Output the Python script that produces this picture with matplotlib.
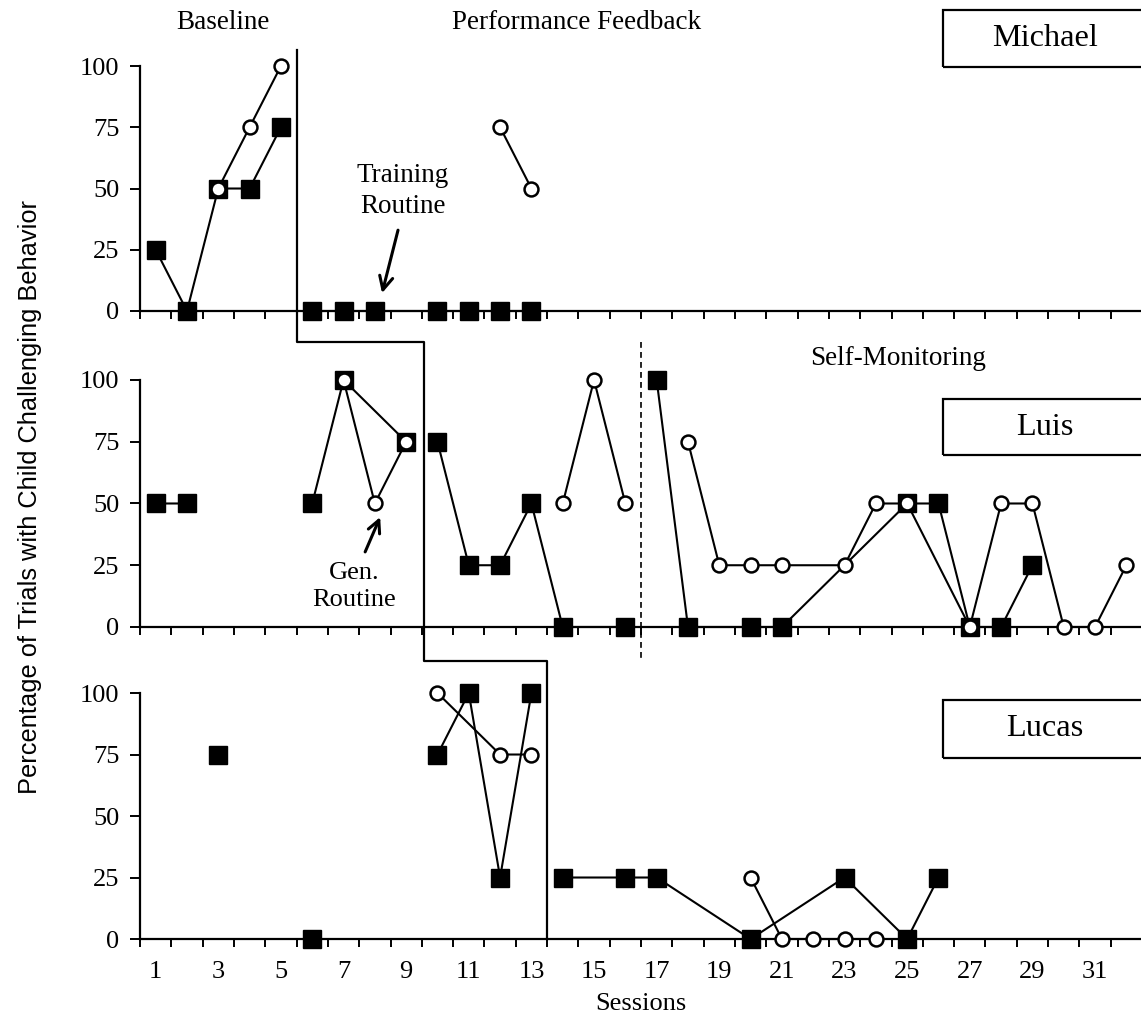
import numpy as np
import matplotlib.pyplot as plt
from matplotlib.patches import Rectangle
from matplotlib.lines import Line2D
from matplotlib.transforms import blended_transform_factory

plt.rcParams['font.family'] = ['Liberation Serif', 'DejaVu Serif']

nan = np.nan

# data: nan marks a break in the line (phase change)
# Michael
mi_sq_x = [1, 2, 3, 4, 5, nan, 6, 7, 8, 10, 11, 12, 13]
mi_sq_y = [25, 0, 50, 50, 75, nan, 0, 0, 0, 0, 0, 0, 0]
mi_ci_x = [3, 4, 5, nan, 12, 13]
mi_ci_y = [50, 75, 100, nan, 75, 50]

# Luis
lu_sq_x = [1, 2, nan, 6, 7, 9, nan, 10, 11, 12, 13, 14, 16, nan,
           17, 18, 20, 21, 25, 26, 27, 28, 29]
lu_sq_y = [50, 50, nan, 50, 100, 75, nan, 75, 25, 25, 50, 0, 0, nan,
           100, 0, 0, 0, 50, 50, 0, 0, 25]
lu_ci_x = [7, 8, 9, nan, 14, 15, 16, nan, 18, 19, 20, 21, 23, 24, 25,
           27, 28, 29, 30, 31, 32]
lu_ci_y = [100, 50, 75, nan, 50, 100, 50, nan, 75, 25, 25, 25, 25, 50, 50,
           0, 50, 50, 0, 0, 25]

# Lucas
lc_sq_x = [3, nan, 6, nan, 10, 11, 12, 13, nan, 14, 16, 17, 20, 23, 25, 26]
lc_sq_y = [75, nan, 0, nan, 75, 100, 25, 100, nan, 25, 25, 25, 0, 25, 0, 25]
lc_ci_x = [10, 12, 13, nan, 20, 21, 22, 23, 24]
lc_ci_y = [100, 75, 75, nan, 25, 0, 0, 0, 0]

names = ["Michael", "Luis", "Lucas"]
phase_x = [5.5, 9.57, 13.5]   # staggered phase change line
selfmon_x = 16.5              # dashed line, Luis only
n_sessions = 32
y_ticks = [0, 25, 50, 75, 100]

fig = plt.figure(figsize=(11.41, 10.19), dpi=100)

# axes rectangles (left, bottom, width, height)
rects = [[0.1227, 0.6948, 0.8782, 0.2404],
         [0.1227, 0.3847, 0.8782, 0.2424],
         [0.1227, 0.0785, 0.8782, 0.2414]]
axes = [fig.add_axes(r) for r in rects]

data = [(mi_sq_x, mi_sq_y, mi_ci_x, mi_ci_y),
        (lu_sq_x, lu_sq_y, lu_ci_x, lu_ci_y),
        (lc_sq_x, lc_sq_y, lc_ci_x, lc_ci_y)]

box_y = [(0.995, 1.229), (0.696, 0.923), (0.736, 0.972)]

for i, ax in enumerate(axes):
    sx, sy, cx, cy = data[i]
    ax.plot(sx, sy, color='black', lw=1.5, marker='s', ms=13,
            mfc='black', mec='black', clip_on=False, zorder=3)
    ax.plot(cx, cy, color='black', lw=1.5, marker='o', ms=10,
            mfc='white', mec='black', mew=1.8, clip_on=False, zorder=4)

    ax.set_xlim(0.5, n_sessions + 0.5)
    ax.set_ylim(0, 100)
    ax.spines['top'].set_visible(False)
    ax.spines['right'].set_visible(False)
    ax.spines['left'].set_linewidth(1.6)
    ax.spines['bottom'].set_linewidth(1.6)

    ax.set_yticks(y_ticks)
    ax.tick_params(axis='y', direction='out', length=7, width=1.4,
                   labelsize=19, pad=8)
    ax.set_xticks(np.arange(0.5, n_sessions + 1, 1))
    ax.set_xticklabels([])
    ax.tick_params(axis='x', which='major', direction='out', length=6,
                   width=1.4)
    if i == 2:
        ax.set_xticks(np.arange(1, n_sessions, 2), minor=True)
        ax.set_xticklabels([str(s) for s in range(1, n_sessions, 2)],
                           minor=True)
        ax.tick_params(axis='x', which='minor', length=0, labelsize=19,
                       pad=16)
        ax.set_xlabel("Sessions", fontsize=19, labelpad=7)

    # name box
    y0, y1 = box_y[i]
    ax.add_patch(Rectangle((0.801, y0), 0.25, y1 - y0, transform=ax.transAxes,
                           fill=False, lw=1.6, ec='black', clip_on=False))
    ax.text(0.903, (y0 + y1) / 2, names[i], transform=ax.transAxes,
            ha='center', va='center', fontsize=23.3)

# phase labels
axes[0].text(3.15, 117.8, "Baseline", ha='center', va='center', fontsize=19.5)
axes[0].text(14.43, 117.8, "Performance Feedback", ha='center', va='center',
             fontsize=19.5)
axes[1].text(24.7, 108.9, "Self-Monitoring", ha='center', va='center',
             fontsize=19.5)

# annotations: text and arrow drawn separately
axes[0].text(8.9, 49, "Training\nRoutine", ha='center', va='center',
             fontsize=19.5, linespacing=1.3)
axes[0].annotate("", xy=(8.23, 7.3), xytext=(8.74, 33),
                 arrowprops=dict(arrowstyle='->', lw=2.2, color='black',
                                 mutation_scale=24, shrinkA=0, shrinkB=0))
axes[1].text(7.34, 16.5, "Gen.\nRoutine", ha='center', va='center',
             fontsize=19, linespacing=1.3)
axes[1].annotate("", xy=(8.17, 44.5), xytext=(7.69, 30.4),
                 arrowprops=dict(arrowstyle='->', lw=2.2, color='black',
                                 mutation_scale=22, shrinkA=0, shrinkB=0))

# staggered phase change line, x in data units, y in figure fraction
trans = blended_transform_factory(axes[0].transData, fig.transFigure)
y_top = 1 - 50 / 1019
y_step1 = 1 - 342 / 1019
y_step2 = 1 - 661 / 1019
y_bot = rects[2][1]
fig.add_artist(Line2D([phase_x[0], phase_x[0], phase_x[1], phase_x[1],
                       phase_x[2], phase_x[2]],
                      [y_top, y_step1, y_step1, y_step2, y_step2, y_bot],
                      transform=trans, color='black', lw=1.6))
fig.add_artist(Line2D([selfmon_x, selfmon_x], [y_step1, y_step2],
                      transform=trans, color='black', lw=1.2,
                      dashes=(3.5, 2.5)))

fig.text(0.0263, 1 - 497 / 1019,
         "Percentage of Trials with Child Challenging Behavior",
         rotation=90, ha='center', va='center', fontsize=18.3,
         family=['Liberation Sans', 'DejaVu Sans'])

fig.savefig("out.png", dpi=100)
